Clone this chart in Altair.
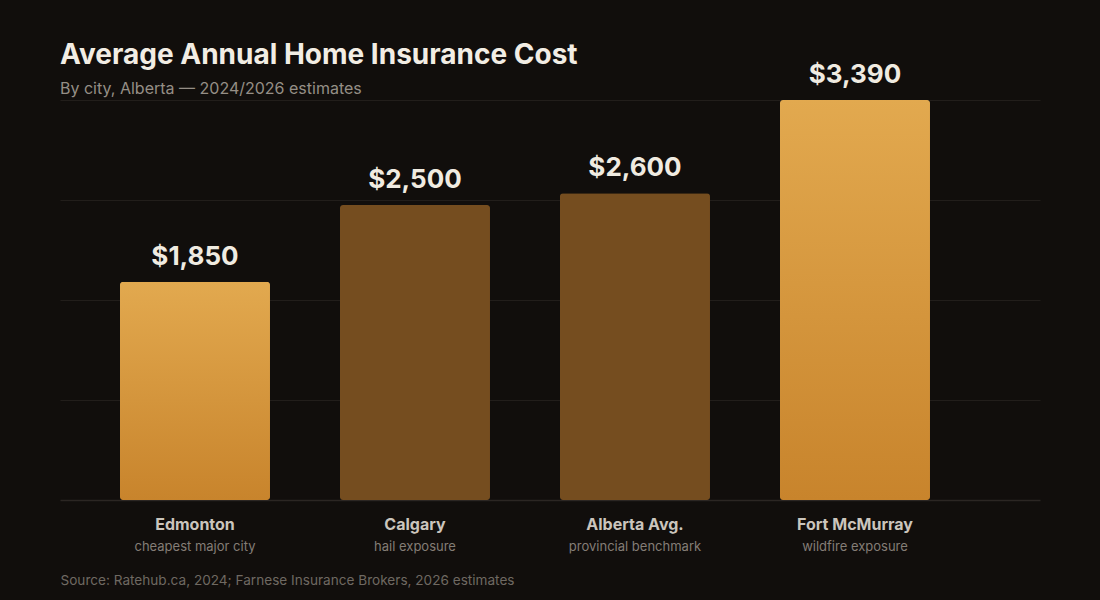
import altair as alt
import pandas as pd

cities = ["Edmonton", "Calgary", "Alberta Avg.", "Fort McMurray"]
costs = [1850, 2500, 2600, 3390]
notes = ["cheapest major city", "hail exposure", "provincial benchmark", "wildfire exposure"]
highlight = [True, False, False, True]
grid_values = [0, 847.5, 1695, 2542.5, 3390]

df = pd.DataFrame({"city": cities, "cost": costs, "note": notes, "hi": highlight})

BG = "#110e0c"
FONT = "Inter"

x_enc = alt.X(
    "city:N",
    sort=cities,
    scale=alt.Scale(paddingInner=0.31818, paddingOuter=0.38636, align=0.3529),
    axis=alt.Axis(
        title="Source: Ratehub.ca, 2024; Farnese Insurance Brokers, 2026 estimates",
        titleX=0, titleY=84, titleAlign="left", titleBaseline="alphabetic",
        titleFont=FONT, titleFontSize=13.6, titleFontWeight="normal", titleColor="#6f6962",
        labelFont=FONT, labelFontSize=16, labelFontWeight="bold", labelColor="#cbc5bd",
        labelPadding=16, labelAngle=0,
        ticks=False, domain=False, grid=False,
    ),
)

y_scale = alt.Scale(domain=[0, 3390], nice=False)
y_enc = alt.Y(
    "cost:Q", scale=y_scale,
    axis=alt.Axis(
        values=grid_values, grid=True,
        gridColor={"condition": {"test": "datum.value === 0", "value": "#2b2623"}, "value": "#221e1b"},
        gridWidth={"condition": {"test": "datum.value === 0", "value": 1.5}, "value": 1},
        labels=False, ticks=False, domain=False, title=None,
    ),
)

base = alt.Chart(df).encode(x=x_enc, y=y_enc)

grad = alt.LinearGradient(
    gradient="linear",
    stops=[alt.GradientStop(color="#e2a94f", offset=0), alt.GradientStop(color="#c8842c", offset=1)],
    x1=0, x2=0, y1=0, y2=1,
)

bars_hi = base.mark_bar(cornerRadius=3, color=grad).transform_filter("datum.hi")
bars_lo = base.mark_bar(cornerRadius=3, color="#754d1f").transform_filter("!datum.hi")

values = base.mark_text(
    font=FONT, fontSize=26, fontWeight="bold", color="#f0ebe1", baseline="alphabetic", dy=-17
).encode(text=alt.Text("cost:Q", format="$,"))

sub = alt.Chart(df).mark_text(
    font=FONT, fontSize=13, color="#847d76", baseline="alphabetic"
).encode(x=x_enc, y=alt.value(451), text="note:N")

chart = alt.layer(bars_hi, bars_lo, values, sub).properties(
    width=980, height=400,
    autosize=alt.AutoSizeParams(type="none"),
    padding={"left": 60, "right": 60, "top": 100, "bottom": 100},
    background=BG,
    title=alt.TitleParams(
        text="Average Annual Home Insurance Cost",
        subtitle="By city, Alberta — 2024/2026 estimates",
        anchor="start", frame="group", offset=-35,
        font=FONT, fontSize=28, fontWeight="bold", color="#f2ede4",
        subtitleFont=FONT, subtitleFontSize=16, subtitleColor="#958e86", subtitlePadding=11,
    ),
).configure_view(stroke=None)

chart.save("out.html", embed_options={"renderer": "svg", "actions": False})
